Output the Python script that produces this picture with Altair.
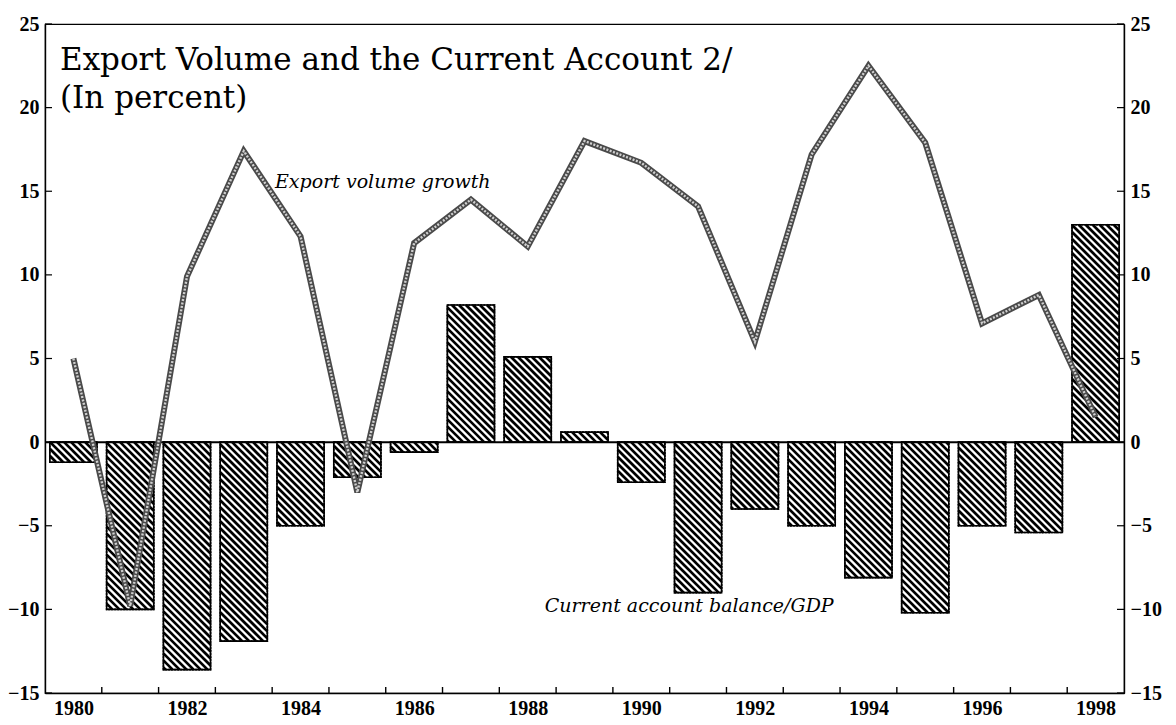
import math
import altair as alt
import pandas as pd

# ---- data ----
years = list(range(1980, 1999))
current_account = [-1.2, -10.0, -13.6, -11.9, -5.0, -2.1, -0.6, 8.2, 5.1, 0.6,
                   -2.4, -9.0, -4.0, -5.0, -8.1, -10.2, -5.0, -5.4, 13.0]
export_growth = [5.0, -9.8, 9.9, 17.4, 12.3, -3.0, 11.9, 14.5, 11.7, 18.0,
                 16.7, 14.1, 6.0, 17.2, 22.5, 17.9, 7.1, 8.8, 1.5]
y_ticks = [-15, -10, -5, 0, 5, 10, 15, 20, 25]
x_label_years = [1980, 1982, 1984, 1986, 1988, 1990, 1992, 1994, 1996, 1998]
title_lines = ["Export Volume and the Current Account 2/", "(In percent)"]
label_export = "Export volume growth"
label_ca = "Current account balance/GDP"

# ---- layout ----
W, H = 1079, 669
X0, X1 = 1979.5, 1998.5
Y0, Y1 = -15, 25
PX = W / (X1 - X0)
PY = H / (Y1 - Y0)
HALF = 0.415

xs = alt.Scale(domain=[X0, X1], nice=False, zero=False)
ys = alt.Scale(domain=[Y0, Y1], nice=False, zero=False)

df = pd.DataFrame({"year": years, "ca": current_account, "exp": export_growth})
df["xa"] = df["year"] - HALF
df["xb"] = df["year"] + HALF
df["base"] = 0.0

# hatch pattern (diagonal "\" lines) clipped to each bar, derived from the bar values
period = 7.0
rows = []
for yr, v in zip(years, current_account):
    xl = (yr - HALF - X0) * PX
    xr = (yr + HALF - X0) * PX
    yt = (Y1 - max(v, 0)) * PY
    yb = (Y1 - min(v, 0)) * PY
    kmin = math.floor((yt - xr) / period)
    kmax = math.ceil((yb - xl) / period)
    for k in range(kmin, kmax + 1):
        c = k * period
        xa = max(xl, yt - c)
        xb = min(xr, yb - c)
        if xb - xa > 0.3:
            rows.append({
                "x": X0 + xa / PX, "x2": X0 + xb / PX,
                "y": Y1 - (xa + c) / PY, "y2": Y1 - (xb + c) / PY,
            })
hatch = pd.DataFrame(rows)

serif = "Liberation Serif"

bars = alt.Chart(df).mark_bar(fill="white", stroke="black", strokeWidth=1.6).encode(
    x=alt.X("xa:Q", scale=xs, title=None,
            axis=alt.Axis(values=x_label_years, format="d", ticks=False,
                          labelPadding=5, labelFlush=False, grid=False)),
    x2="xb:Q",
    y=alt.Y("ca:Q", scale=ys, title=None,
            axis=alt.Axis(values=y_ticks, ticks=False, grid=False,
                          labelPadding=6, orient="left")),
    y2="base:Q",
)

hatch_layer = alt.Chart(hatch).mark_rule(color="black", strokeWidth=2.7, strokeCap="butt").encode(
    x=alt.X("x:Q", scale=xs, axis=None), x2="x2:Q",
    y=alt.Y("y:Q", scale=ys, axis=None), y2="y2:Q",
)

bar_outline = alt.Chart(df).mark_bar(fill=None, stroke="black", strokeWidth=1.6,
                                     strokeDash=[2, 1]).encode(
    x=alt.X("xa:Q", scale=xs, axis=None), x2="xb:Q",
    y=alt.Y("ca:Q", scale=ys, axis=None), y2="base:Q",
)

zero_df = pd.DataFrame({"v": [0.0], "xa": [X0], "xb": [X1]})
zero = alt.Chart(zero_df).mark_rule(color="black", strokeWidth=2).encode(
    y=alt.Y("v:Q", scale=ys, axis=None),
    x=alt.X("xa:Q", scale=xs, axis=None), x2="xb:Q",
)

line_dark = alt.Chart(df).mark_line(color="#4a4a4a", strokeWidth=6, strokeJoin="miter").encode(
    x=alt.X("year:Q", scale=xs, axis=None),
    y=alt.Y("exp:Q", scale=ys, axis=None),
)
line_light = alt.Chart(df).mark_line(color="#d0d0d0", strokeWidth=2.4, strokeDash=[2, 1.5],
                                     strokeJoin="miter").encode(
    x=alt.X("year:Q", scale=xs, axis=None),
    y=alt.Y("exp:Q", scale=ys, axis=None),
)

# inward ticks
tick_len_x = 7 / PX
tick_len_y = 6 / PY
lt = pd.DataFrame({"v": y_ticks})
lt["xa"] = X0
lt["xb"] = X0 + tick_len_x
left_ticks = alt.Chart(lt).mark_rule(color="black", strokeWidth=1.2).encode(
    y=alt.Y("v:Q", scale=ys, axis=None),
    x=alt.X("xa:Q", scale=xs, axis=None), x2="xb:Q",
)
rt = pd.DataFrame({"v": y_ticks})
rt["xa"] = X1 - tick_len_x
rt["xb"] = X1
right_ticks = alt.Chart(rt).mark_rule(color="black", strokeWidth=1.2).encode(
    y=alt.Y("v:Q", scale=ys, title=None,
            axis=alt.Axis(values=y_ticks, ticks=False, grid=False, labelPadding=6,
                          orient="right")),
    x=alt.X("xa:Q", scale=xs, axis=None), x2="xb:Q",
)
bt = pd.DataFrame({"t": [y + 0.5 for y in years[:-1]]})
bt["ya"] = Y0
bt["yb"] = Y0 + tick_len_y
bottom_ticks = alt.Chart(bt).mark_rule(color="black", strokeWidth=1.4).encode(
    x=alt.X("t:Q", scale=xs, axis=None),
    y=alt.Y("ya:Q", scale=ys, axis=None), y2="yb:Q",
)

# annotations
ann = pd.DataFrame({
    "label": [label_export, label_ca],
    "x": [1983.55, 1988.3],
    "y": [15.2, -10.15],
})
ann_layer = alt.Chart(ann).mark_text(font="DejaVu Serif", fontStyle="italic", fontSize=19,
                                     align="left", baseline="alphabetic", color="black").encode(
    x=alt.X("x:Q", scale=xs, axis=None),
    y=alt.Y("y:Q", scale=ys, axis=None),
    text="label:N",
)

title_df = pd.DataFrame({"t": title_lines, "i": [0, 1]})
title_layer = alt.Chart(title_df).transform_calculate(
    py="46 + datum.i * 38"
).mark_text(font="DejaVu Serif", fontSize=31, align="left", baseline="alphabetic",
            color="black").encode(
    x=alt.value(15),
    y=alt.Y("py:Q", scale=None, axis=None),
    text="t:N",
)

chart = alt.layer(
    bars, hatch_layer, bar_outline, zero, line_dark, line_light,
    left_ticks, right_ticks, bottom_ticks, ann_layer, title_layer
).resolve_axis(x="independent", y="independent").properties(
    width=W, height=H,
    padding={"left": 37, "top": 16, "right": 40, "bottom": 30},
    autosize=alt.AutoSizeParams(type="none"),
).configure_view(stroke="black", strokeWidth=1.2).configure_axis(
    labelFont=serif, labelFontWeight="bold", labelFontSize=20, labelColor="black",
    domainColor="black", domainWidth=1.4,
)

chart.save("out.html", embed_options={"renderer": "svg", "actions": False})
